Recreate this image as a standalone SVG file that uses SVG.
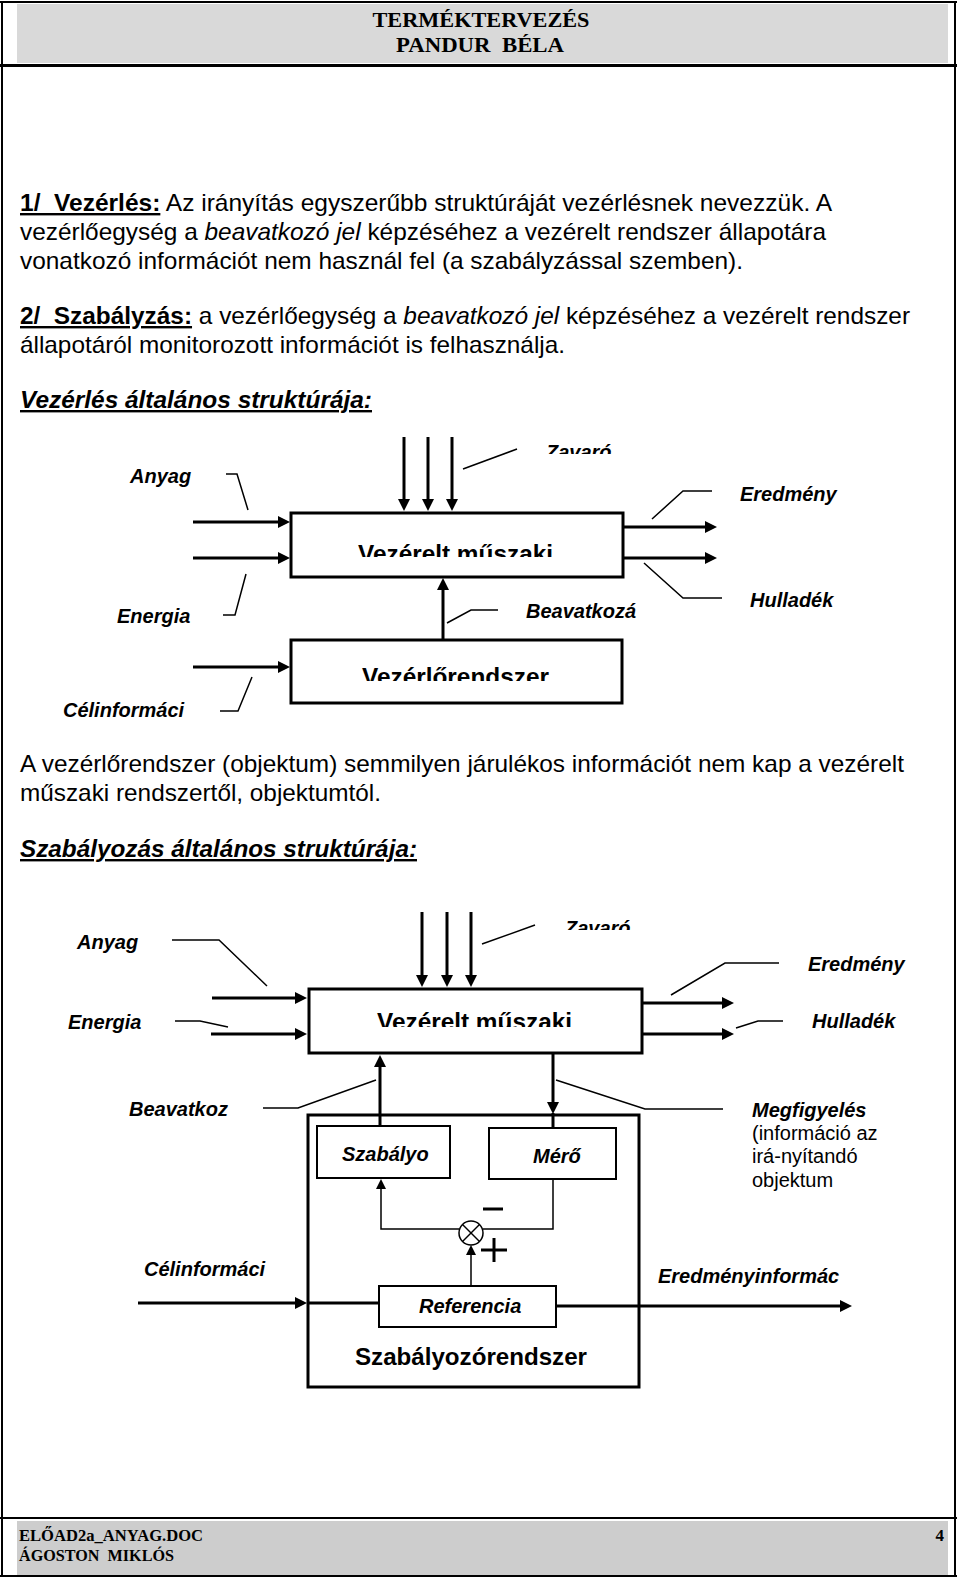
<svg xmlns="http://www.w3.org/2000/svg" width="960" height="1577" viewBox="0 0 960 1577">
<style>
.frame{stroke:#000;stroke-width:2;fill:none}
.hdr{font-family:"Liberation Serif","Times New Roman",serif;font-weight:bold;font-size:22px;fill:#000}
.ftr{font-family:"Liberation Serif","Times New Roman",serif;font-weight:bold;font-size:17px;fill:#000}
.body{font-family:"Liberation Sans",Arial,sans-serif;font-size:24px;fill:#000}
.b{font-weight:bold}
.i{font-style:italic}
.u{text-decoration:underline}
.lbl{font-family:"Liberation Sans",Arial,sans-serif;font-size:20px;font-weight:bold;font-style:italic;fill:#000}
.txt{font-family:"Liberation Sans",Arial,sans-serif;font-size:20px;fill:#000}
.big{font-family:"Liberation Sans",Arial,sans-serif;font-size:24px;font-weight:bold;fill:#000}
.box{fill:#fff;stroke:#000;stroke-width:3}
.sbox{fill:#fff;stroke:#000;stroke-width:2}
.arr{stroke:#000;stroke-width:3;fill:none;marker-end:url(#ah)}
.sarr{stroke:#000;stroke-width:1.5;fill:none;marker-end:url(#sah)}
.thk{stroke:#000;stroke-width:3;fill:none}
.lead{stroke:#000;stroke-width:1.5;fill:none}
</style>
<defs>
<marker id="ah" viewBox="0 0 12 12" refX="4" refY="6" markerWidth="12" markerHeight="12" markerUnits="userSpaceOnUse" orient="auto"><path d="M0,0 L12,6 L0,12 z" fill="#000"/></marker>
<marker id="sah" viewBox="0 0 10 10" refX="4" refY="5" markerWidth="10" markerHeight="10" markerUnits="userSpaceOnUse" orient="auto"><path d="M0,0 L10,5 L0,10 z" fill="#000"/></marker>
<clipPath id="c1"><rect x="500" y="430" width="150" height="24"/></clipPath>
<clipPath id="c2"><rect x="300" y="530" width="310" height="27"/></clipPath>
<clipPath id="c3"><rect x="300" y="650" width="310" height="31"/></clipPath>
<clipPath id="c4"><rect x="520" y="905" width="150" height="25"/></clipPath>
<clipPath id="c5"><rect x="320" y="995" width="310" height="32"/></clipPath>
</defs>
<rect width="960" height="1577" fill="#fff"/>

<!-- page frame, header, footer -->
<g id="header">
<rect x="17" y="4" width="931" height="59" fill="#d9d9d9"/>
<line class="frame" x1="0" y1="2" x2="957" y2="2"/>
<line x1="0" y1="65.5" x2="957" y2="65.5" stroke="#000" stroke-width="3"/>
<text class="hdr" x="481" y="27" text-anchor="middle" textLength="217" lengthAdjust="spacingAndGlyphs">TERMÉKTERVEZÉS</text>
<text class="hdr" x="480" y="52" text-anchor="middle" textLength="168" lengthAdjust="spacingAndGlyphs" xml:space="preserve">PANDUR  BÉLA</text>
</g>
<g id="frame">
<line class="frame" x1="2" y1="2" x2="2" y2="1577"/>
<line class="frame" x1="955" y1="2" x2="955" y2="1577"/>
</g>
<g id="footer">
<rect x="17" y="1521" width="931" height="54" fill="#cdcdcd"/>
<line class="frame" x1="0" y1="1518" x2="957" y2="1518"/>
<line class="frame" x1="0" y1="1576" x2="957" y2="1576"/>
<text class="ftr" x="19" y="1541" textLength="184" lengthAdjust="spacingAndGlyphs">ELŐAD2a_ANYAG.DOC</text>
<text class="ftr" x="19" y="1561" textLength="155" lengthAdjust="spacingAndGlyphs" xml:space="preserve">ÁGOSTON  MIKLÓS</text>
<text class="ftr" x="944" y="1541" text-anchor="end">4</text>
</g>

<!-- body text -->
<g id="text">
<text class="body" x="20" y="211" textLength="812" lengthAdjust="spacingAndGlyphs" xml:space="preserve"><tspan class="b u">1/  Vezérlés:</tspan> Az irányítás egyszerűbb struktúráját vezérlésnek nevezzük. A</text>
<text class="body" x="20" y="240" textLength="806" lengthAdjust="spacingAndGlyphs">vezérlőegység a <tspan class="i">beavatkozó jel</tspan> képzéséhez a vezérelt rendszer állapotára</text>
<text class="body" x="20" y="269" textLength="723" lengthAdjust="spacingAndGlyphs">vonatkozó információt nem használ fel (a szabályzással szemben).</text>
<text class="body" x="20" y="324" textLength="890" lengthAdjust="spacingAndGlyphs" xml:space="preserve"><tspan class="b u">2/  Szabályzás:</tspan> a vezérlőegység a <tspan class="i">beavatkozó jel</tspan> képzéséhez a vezérelt rendszer</text>
<text class="body" x="20" y="353" textLength="545" lengthAdjust="spacingAndGlyphs">állapotáról monitorozott információt is felhasználja.</text>
<text class="body b i u" x="20" y="408" textLength="352" lengthAdjust="spacingAndGlyphs">Vezérlés általános struktúrája:</text>
<text class="body" x="20" y="772" textLength="884" lengthAdjust="spacingAndGlyphs">A vezérlőrendszer (objektum) semmilyen járulékos információt nem kap a vezérelt</text>
<text class="body" x="20" y="801" textLength="361" lengthAdjust="spacingAndGlyphs">műszaki rendszertől, objektumtól.</text>
<text class="body b i u" x="20" y="857" textLength="397" lengthAdjust="spacingAndGlyphs">Szabályozás általános struktúrája:</text>
</g>

<!-- Diagram 1 -->
<g id="d1-connectors">
<line class="arr" x1="193" y1="522" x2="282" y2="522"/>
<line class="arr" x1="193" y1="558" x2="282" y2="558"/>
<line class="arr" x1="193" y1="667" x2="282" y2="667"/>
<line class="arr" x1="624" y1="527" x2="709" y2="527"/>
<line class="arr" x1="624" y1="558" x2="709" y2="558"/>
<line class="arr" x1="404" y1="437" x2="404" y2="503"/>
<line class="arr" x1="428" y1="437" x2="428" y2="503"/>
<line class="arr" x1="452" y1="437" x2="452" y2="503"/>
<line class="arr" x1="443" y1="639" x2="443" y2="586"/>
<polyline class="lead" points="226,474 237,474 248,510"/>
<polyline class="lead" points="246,574 235,615 223,615"/>
<polyline class="lead" points="252,677 238,711 220,711"/>
<polyline class="lead" points="463,469 517,449"/>
<polyline class="lead" points="652,519 683,491 712,491"/>
<polyline class="lead" points="644,563 683,598 722,598"/>
<polyline class="lead" points="447,623 471,610 498,610"/>
</g>
<g id="d1-vezerelt">
<rect class="box" x="291" y="513" width="332" height="64"/>
<text class="big" x="358" y="562" textLength="195" lengthAdjust="spacingAndGlyphs" clip-path="url(#c2)">Vezérelt műszaki</text>
</g>
<g id="d1-vezerlo">
<rect class="box" x="291" y="640" width="331" height="63"/>
<text class="big" x="362" y="685" textLength="187" lengthAdjust="spacingAndGlyphs" clip-path="url(#c3)">Vezérlőrendszer</text>
</g>
<g id="d1-labels">
<text class="lbl" x="130" y="483">Anyag</text>
<text class="lbl" x="117" y="623">Energia</text>
<text class="lbl" x="63" y="717">Célinformáci</text>
<text class="lbl" x="546" y="459" clip-path="url(#c1)">Zavaró</text>
<text class="lbl" x="740" y="501">Eredmény</text>
<text class="lbl" x="750" y="607">Hulladék</text>
<text class="lbl" x="526" y="618">Beavatkozá</text>
</g>

<!-- Diagram 2 -->
<g id="d2-connectors">
<line class="arr" x1="212" y1="998" x2="299" y2="998"/>
<line class="arr" x1="211" y1="1034" x2="299" y2="1034"/>
<line class="arr" x1="642" y1="1003" x2="726" y2="1003"/>
<line class="arr" x1="642" y1="1034" x2="726" y2="1034"/>
<line class="arr" x1="422" y1="912" x2="422" y2="979"/>
<line class="arr" x1="447" y1="912" x2="447" y2="979"/>
<line class="arr" x1="471" y1="912" x2="471" y2="979"/>
<line class="arr" x1="553" y1="1053" x2="553" y2="1106"/>
<line class="thk" x1="553" y1="1113" x2="553" y2="1128"/>
<line class="arr" x1="380" y1="1126" x2="380" y2="1063"/>
<line class="arr" x1="138" y1="1303" x2="299" y2="1303"/>
<line class="thk" x1="307" y1="1303" x2="379" y2="1303"/>
<line class="arr" x1="556" y1="1306" x2="844" y2="1306"/>
<polyline class="lead" points="553,1179 553,1229 483,1229"/>
<polyline class="sarr" points="459,1229 381,1229 381,1185"/>
<line class="sarr" x1="471" y1="1286" x2="471" y2="1251"/>
<polyline class="lead" points="172,940 219,940 267,986"/>
<polyline class="lead" points="175,1021 200,1021 228,1027"/>
<polyline class="lead" points="482,944 535,925"/>
<polyline class="lead" points="671,995 725,963 779,963"/>
<polyline class="lead" points="736,1028 758,1021 783,1021"/>
<polyline class="lead" points="556,1080 645,1109 723,1109"/>
<polyline class="lead" points="263,1108 298,1108 376,1080"/>
</g>
<g id="d2-vezerelt">
<rect class="box" x="309" y="989" width="333" height="64"/>
<text class="big" x="377" y="1030" textLength="195" lengthAdjust="spacingAndGlyphs" clip-path="url(#c5)">Vezérelt műszaki</text>
</g>
<g id="d2-szabalyozorendszer">
<rect class="box" x="308" y="1115" width="331" height="272" fill="none" style="fill:none"/>
<text class="big" x="355" y="1365" textLength="232" lengthAdjust="spacingAndGlyphs">Szabályozórendszer</text>
</g>
<g id="d2-szabalyo">
<rect class="sbox" x="317" y="1126" width="133" height="52"/>
<text class="lbl" x="342" y="1161">Szabályo</text>
</g>
<g id="d2-mero">
<rect class="sbox" x="489" y="1128" width="127" height="51"/>
<text class="lbl" x="533" y="1163">Mérő</text>
</g>
<g id="d2-referencia">
<rect class="sbox" x="379" y="1286" width="177" height="41"/>
<text class="lbl" x="419" y="1313">Referencia</text>
</g>
<g id="d2-osszegzo">
<circle cx="471" cy="1233" r="12" fill="#fff" stroke="#000" stroke-width="1.5"/>
<line x1="462.5" y1="1224.5" x2="479.5" y2="1241.5" stroke="#000" stroke-width="1.5"/>
<line x1="479.5" y1="1224.5" x2="462.5" y2="1241.5" stroke="#000" stroke-width="1.5"/>
<line x1="483" y1="1209" x2="503" y2="1209" stroke="#000" stroke-width="3"/>
<line x1="481" y1="1250" x2="507" y2="1250" stroke="#000" stroke-width="3"/>
<line x1="494" y1="1238" x2="494" y2="1262" stroke="#000" stroke-width="3"/>
</g>
<g id="d2-labels">
<text class="lbl" x="77" y="949">Anyag</text>
<text class="lbl" x="68" y="1029">Energia</text>
<text class="lbl" x="565" y="935" clip-path="url(#c4)">Zavaró</text>
<text class="lbl" x="808" y="971">Eredmény</text>
<text class="lbl" x="812" y="1028">Hulladék</text>
<text class="lbl" x="129" y="1116">Beavatkoz</text>
<text class="lbl" x="752" y="1117">Megfigyelés</text>
<text class="txt" x="752" y="1140">(információ az</text>
<text class="txt" x="752" y="1163">irá-nyítandó</text>
<text class="txt" x="752" y="1187">objektum</text>
<text class="lbl" x="144" y="1276">Célinformáci</text>
<text class="lbl" x="658" y="1283">Eredményinformác</text>
</g>
</svg>
